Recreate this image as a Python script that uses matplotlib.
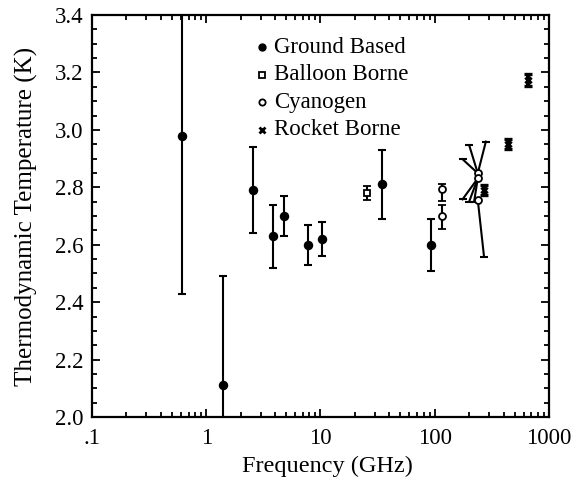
import matplotlib
matplotlib.use("Agg")
import matplotlib.pyplot as plt
import numpy as np
from matplotlib.ticker import FixedLocator, MultipleLocator, NullFormatter, LogLocator

# ---------------- data ----------------
ground_freq = [0.62, 1.41, 2.57, 3.85, 4.83, 7.8, 10.4, 34.8, 92.3]
ground_T    = [2.98, 2.11, 2.79, 2.63, 2.70, 2.60, 2.62, 2.81, 2.60]
ground_lo   = [2.43, 1.73, 2.64, 2.52, 2.63, 2.53, 2.56, 2.69, 2.51]
ground_hi   = [3.53, 2.49, 2.94, 2.74, 2.77, 2.667, 2.68, 2.93, 2.69]

balloon_freq = [25.6]
balloon_T    = [2.78]
balloon_lo   = [2.755]
balloon_hi   = [2.805]

cyan_freq = [115.6, 115.6]
cyan_T    = [2.794, 2.699]
cyan_lo   = [2.752, 2.656]
cyan_hi   = [2.813, 2.740]

# cyanogen cluster near 230 GHz with slanted error bars
cluster_freq = [238, 238, 238]
cluster_T    = [2.849, 2.831, 2.756]
# slanted error segments: start point -> end point (capped)
seg_f0 = [238, 238, 238, 238, 238, 238, 238]
seg_T0 = [2.849, 2.849, 2.849, 2.831, 2.831, 2.831, 2.756]
seg_f1 = [176, 200, 280, 175, 200, 221, 270]
seg_T1 = [2.897, 2.947, 2.959, 2.758, 2.750, 2.750, 2.558]

rocket_freq = [270, 436, 655]
rocket_T    = [2.79, 2.951, 3.174]
rocket_err  = [0.017, 0.016, 0.022]

xticks = [0.1, 1, 10, 100, 1000]
xticklabels = [".1", "1", "10", "100", "1000"]
yticks = [2.0, 2.2, 2.4, 2.6, 2.8, 3.0, 3.2, 3.4]
yticklabels = ["2.0", "2.2", "2.4", "2.6", "2.8", "3.0", "3.2", "3.4"]

legend_labels = ["Ground Based", "Balloon Borne", "Cyanogen", "Rocket Borne"]

# ---------------- figure ----------------
plt.rcParams['font.family'] = ['Liberation Serif', 'DejaVu Serif']
fig = plt.figure(figsize=(5.71, 4.88), dpi=100)
ax = fig.add_axes([0.161, 0.1455, 0.8005, 0.8237])

lw = 1.5
cap = 3

def err(vals, lo, hi):
    v = np.array(vals); return [v - np.array(lo), np.array(hi) - v]

ax.errorbar(ground_freq, ground_T, yerr=err(ground_T, ground_lo, ground_hi),
            fmt='o', color='black', ms=5.8, elinewidth=lw, capsize=cap, capthick=lw,
            clip_on=True, zorder=3)
ax.errorbar(balloon_freq, balloon_T, yerr=err(balloon_T, balloon_lo, balloon_hi),
            fmt='s', mfc='white', mec='black', mew=1.3, color='black', ms=4.5,
            elinewidth=lw, capsize=cap, capthick=lw, zorder=3)
ax.errorbar(cyan_freq, cyan_T, yerr=err(cyan_T, cyan_lo, cyan_hi),
            fmt='o', mfc='white', mec='black', mew=1.3, color='black', ms=5,
            elinewidth=lw, capsize=cap, capthick=lw, zorder=3)

for f0, t0, f1, t1 in zip(seg_f0, seg_T0, seg_f1, seg_T1):
    ax.plot([f0, f1], [t0, t1], color='black', lw=lw, zorder=2)
    ax.plot([f1], [t1], marker='_', ms=2 * cap, mew=lw, color='black', zorder=2)
ax.plot(cluster_freq, cluster_T, 'o', mfc='white', mec='black', mew=1.3, ms=5, zorder=4)

ax.errorbar(rocket_freq, rocket_T, yerr=rocket_err, fmt='x', color='black',
            ms=5, mew=2.4, elinewidth=2.8, capsize=cap, capthick=1.8, zorder=3)

ax.set_xscale('log')
ax.set_xlim(0.1, 1000)
ax.set_ylim(2.0, 3.4)
ax.xaxis.set_major_locator(FixedLocator(xticks))
ax.set_xticklabels(xticklabels)
ax.xaxis.set_minor_locator(LogLocator(base=10, subs=np.arange(2, 10), numticks=20))
ax.xaxis.set_minor_formatter(NullFormatter())
ax.yaxis.set_major_locator(FixedLocator(yticks))
ax.set_yticklabels(yticklabels)
ax.yaxis.set_minor_locator(MultipleLocator(0.05))

ax.tick_params(which='both', direction='in', top=True, right=True, width=1.3,
               labelsize=16.5)
ax.tick_params(which='major', length=6)
ax.tick_params(which='minor', length=3.5)
ax.tick_params(axis='x', which='major', pad=8)
ax.tick_params(axis='y', which='major', pad=6)
for s in ax.spines.values():
    s.set_linewidth(1.6)

ax.set_xlabel("Frequency (GHz)", fontsize=17.5)
ax.set_ylabel("Thermodynamic Temperature (K)", fontsize=18)
ax.xaxis.set_label_coords(0.516, -0.097)
ax.yaxis.set_label_coords(-0.118, 0.5)

# legend (manual, in axes coords)
leg_x_marker = (262 - 92) / 457.0
leg_x_text = (274 - 92) / 457.0
leg_rows = [47, 74.5, 102, 129.5]
styles = [dict(marker='o', mfc='black', mec='black', ms=5),
          dict(marker='s', mfc='white', mec='black', ms=4.5, mew=1.3),
          dict(marker='o', mfc='white', mec='black', ms=4.5, mew=1.3),
          dict(marker='x', color='black', ms=4.5, mew=2)]
for lab, row, st in zip(legend_labels, leg_rows, styles):
    yy = (417 - row) / 402.0
    ax.plot([leg_x_marker], [yy], transform=ax.transAxes, linestyle='none',
            clip_on=False, **st)
    ax.text(leg_x_text, yy, lab, transform=ax.transAxes, fontsize=16.5,
            va='center', ha='left')

fig.savefig("out.png", dpi=100)
